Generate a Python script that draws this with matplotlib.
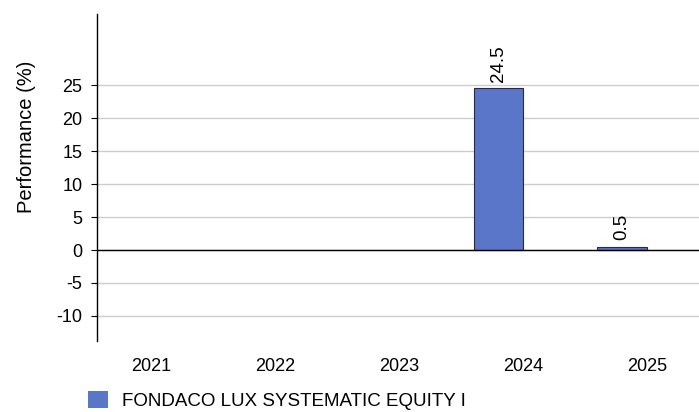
import matplotlib
matplotlib.use("Agg")
import matplotlib.pyplot as plt
from matplotlib.patches import Patch

plt.rcParams["font.family"] = ["Liberation Sans", "DejaVu Sans"]
plt.rcParams["axes.unicode_minus"] = False

years = ["2021", "2022", "2023", "2024", "2025"]
perf = [None, None, None, 24.5, 0.5]
fund_name = "FONDACO LUX SYSTEMATIC EQUITY I"
bar_color = "#5a76c8"

fig = plt.figure(figsize=(6.99, 4.12), dpi=100)
ax = fig.add_axes([97 / 699, 1 - 341 / 412, 1 - 97 / 699, (341 - 14) / 412])

xs = [i - 0.2 for i, v in enumerate(perf) if v is not None]
vals = [v for v in perf if v is not None]
ax.bar(xs, vals, width=0.4, color=bar_color, edgecolor="#2a2a40", linewidth=0.8, zorder=3)
for x, v in zip(xs, vals):
    ax.text(x, v + 1.0, f"{v}", rotation=90, ha="center", va="bottom", fontsize=13.5)

ax.set_xlim(-0.44, 4.42)
ax.set_ylim(-13.8, 35.8)
ax.set_yticks([-10, -5, 0, 5, 10, 15, 20, 25])
ax.set_xticks(range(len(years)))
ax.set_xticklabels(years)
ax.tick_params(axis="x", length=0, labelsize=13, pad=12)
ax.tick_params(axis="y", length=4, labelsize=13, pad=6.5)
ax.grid(axis="y", color="#cccccc", linewidth=1, zorder=0)
ax.axhline(0, color="black", linewidth=1, zorder=4)
for s in ["top", "right", "bottom"]:
    ax.spines[s].set_visible(False)
ax.spines["left"].set_linewidth(1)
ax.set_ylabel("Performance (%)", fontsize=14.5)
ax.yaxis.set_label_coords(-0.101, (341 - 137) / (341 - 14))

fig.legend(handles=[Patch(facecolor=bar_color, label=fund_name)], loc="lower left",
           bbox_to_anchor=(71 / 699, -0.036), frameon=False, fontsize=13.5,
           handlelength=1.05, handleheight=1.05, handletextpad=0.75)

fig.savefig("out.png", dpi=100)
